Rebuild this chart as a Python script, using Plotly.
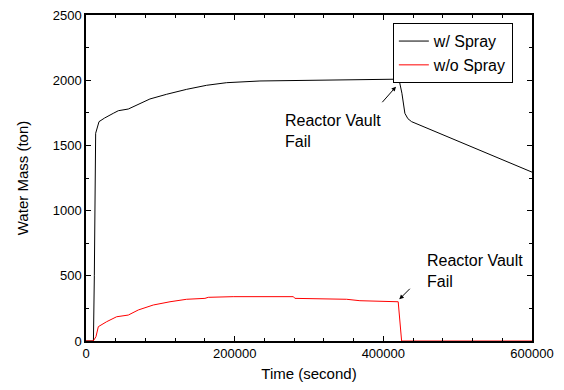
import plotly.graph_objects as go

# w/ Spray
t_spray = [0, 10000, 11200, 13000, 17500, 25000, 36700, 43500, 56900, 72600, 86000,
           108500, 135400, 162300, 189200, 234000, 300000, 350000, 400000, 421000,
           425000, 429000, 433000, 438000, 600000]
m_spray = [0, 0, 500, 1593, 1682, 1710, 1746, 1766, 1779, 1823, 1856,
           1892, 1930, 1961, 1981, 1994, 2000, 2002, 2005, 2008,
           1900, 1746, 1705, 1682, 1295]

# w/o Spray
t_nospray = [0, 9800, 13400, 16600, 27800, 41200, 56900, 70400, 90500, 113000, 135400,
             160000, 164500, 198000, 279000, 281000, 350600, 368500, 420000, 424600, 600000]
m_nospray = [0, 0, 33, 110, 148, 186, 199, 238, 276, 301, 320,
             327, 335, 340, 340, 327, 320, 309, 301, 0, 0]

fig = go.Figure()
fig.add_trace(go.Scatter(x=t_spray, y=m_spray, mode="lines", name="w/ Spray",
                         line=dict(color="black", width=1)))
fig.add_trace(go.Scatter(x=t_nospray, y=m_nospray, mode="lines", name="w/o Spray",
                         line=dict(color="red", width=1)))

font = "Liberation Sans, Arial, sans-serif"
fig.update_layout(
    width=548, height=374,
    margin=dict(l=78, r=24, t=7, b=41),
    plot_bgcolor="white", paper_bgcolor="white",
    font=dict(family=font, size=13, color="black"),
    showlegend=True,
    legend=dict(x=0.688, y=0.975, xanchor="left", yanchor="top",
                bordercolor="black", borderwidth=1, bgcolor="white",
                font=dict(size=16), tracegroupgap=0, itemwidth=30),
)
fig.update_xaxes(range=[0, 600000], tickvals=[0, 200000, 400000, 600000],
                 ticktext=["0", "200000", "400000", "600000"], automargin=False,
                 ticklabeloverflow="allow",
                 ticks="inside", ticklen=5, tickcolor="black", showline=True,
                 linecolor="black", linewidth=1.5, mirror="ticks", showgrid=False,
                 zeroline=False,
                 minor=dict(dtick=40000, tick0=0, ticks="inside", ticklen=3, tickcolor="black"),
                 title=dict(text="Time (second)", font=dict(size=15), standoff=20))
fig.update_yaxes(range=[0, 2500], tickvals=[0, 500, 1000, 1500, 2000, 2500],
                 ticktext=["0", "500", "1000", "1500", "2000", "2500"],
                 ticks="inside", ticklen=5, automargin=False, ticklabeloverflow="allow",
                 tickcolor="black", showline=True, linecolor="black", linewidth=1.5,
                 mirror="ticks", showgrid=False, zeroline=False,
                 minor=dict(dtick=250, ticks="inside", ticklen=3, tickcolor="black"),
                 title=dict(text="Water Mass (ton)", font=dict(size=15), standoff=20))

# annotations: arrows
fig.add_annotation(x=417000, y=1950, ax=-15, ay=17, showarrow=True, arrowhead=2,
                   arrowsize=0.9, arrowwidth=1, arrowcolor="black", text="")
fig.add_annotation(x=421500, y=320, ax=12, ay=-12, showarrow=True, arrowhead=2,
                   arrowsize=0.9, arrowwidth=1, arrowcolor="black", text="")
# annotation texts
fig.add_annotation(x=264600, y=1772, xanchor="left", yanchor="top", showarrow=False,
                   align="left", text="Reactor Vault<br>Fail", font=dict(size=16))
fig.add_annotation(x=456000, y=698, xanchor="left", yanchor="top", showarrow=False,
                   align="left", text="Reactor Vault<br>Fail", font=dict(size=16))

fig.write_html("out.html")
